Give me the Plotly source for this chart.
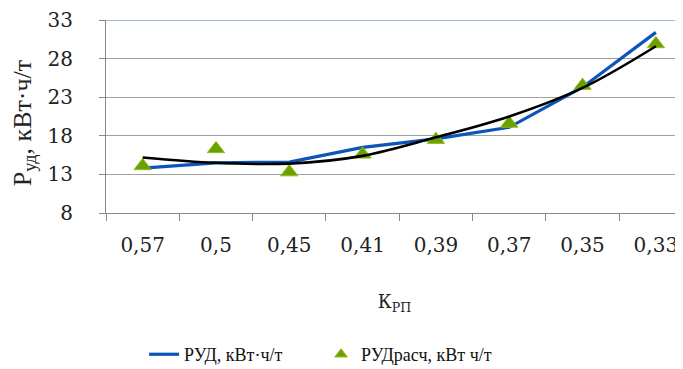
import plotly.graph_objects as go

categories = ["0,57", "0,5", "0,45", "0,41", "0,39", "0,37", "0,35", "0,33"]
rud = [13.8, 14.5, 14.6, 16.5, 17.6, 19.1, 24.3, 31.4]
rud_calc = [14.1, 16.3, 13.3, 15.6, 17.5, 19.6, 24.5, 29.9]
trend = [15.2, 14.5, 14.4, 15.4, 17.8, 20.5, 24.2, 29.6]
y_ticks = [8, 13, 18, 23, 28, 33]

SERIF = "Liberation Serif"
WIDE = "DejaVu Serif"
GREEN = "#6e9f00"

fig = go.Figure()
fig.add_trace(go.Scatter(
    x=categories, y=rud, mode="lines", name="РУД, кВт·ч/т",
    line=dict(color="#0b55b8", width=3.2)))
fig.add_trace(go.Scatter(
    x=categories, y=rud_calc, mode="markers", name="РУДрасч, кВт ч/т",
    legendgroup="calc", showlegend=False,
    marker=dict(symbol="triangle-up", size=15, color=GREEN,
                line=dict(color="#8cbf1a", width=1))))
# legend-only entry with a smaller symbol
fig.add_trace(go.Scatter(
    x=[None], y=[None], mode="markers", name="РУДрасч, кВт ч/т",
    legendgroup="calc",
    marker=dict(symbol="triangle-up", size=11, color=GREEN,
                line=dict(color="#8cbf1a", width=1))))
fig.add_trace(go.Scatter(
    x=categories, y=trend, mode="lines", showlegend=False,
    line=dict(color="#000000", width=2.6, shape="spline", smoothing=1.0)))

fig.add_shape(type="line", xref="paper", yref="y", x0=0, x1=1, y0=33, y1=33,
              line=dict(color="#7fa4d8", width=1.5), layer="above")

fig.update_layout(
    width=675, height=361,
    margin=dict(l=98, r=0, t=12, b=156),
    plot_bgcolor="white", paper_bgcolor="white",
    font=dict(family=SERIF, color="#222222", size=20),
    showlegend=True,
    legend=dict(orientation="h", x=0.066, xanchor="left", xref="paper",
                y=0.04, yanchor="middle", yref="container",
                font=dict(family=SERIF, size=18, color="#111111"),
                entrywidth=132, entrywidthmode="pixels",
                bgcolor="rgba(0,0,0,0)"),
    xaxis=dict(type="category", range=[-0.5, 7.37], automargin=False,
               tickson="boundaries", ticks="outside", ticklen=7, tickcolor="#888888",
               showgrid=False, showline=True, linecolor="#888888", linewidth=1,
               tickfont=dict(family=WIDE, size=20, color="#222222"),
               ticklabelstandoff=14,
               title=dict(text="К<sub>РП</sub>", font=dict(family=WIDE, size=18, color="#222222"),
                          standoff=39)),
    yaxis=dict(range=[8, 33], tickvals=y_ticks, ticks="outside", ticklen=6, automargin=False,
               tickcolor="#888888", showgrid=True, gridcolor="#a0a0a0", gridwidth=1,
               showline=True, linecolor="#888888", linewidth=1, zeroline=False,
               tickfont=dict(family=WIDE, size=20, color="#222222"),
               ticklabelstandoff=22,
               title=dict(text="Р<sub>уд</sub>, кВт·ч/т&nbsp;&nbsp;", font=dict(family=SERIF, size=26, color="#222222"),
                          standoff=18)),
)

fig.write_html("out.html")
